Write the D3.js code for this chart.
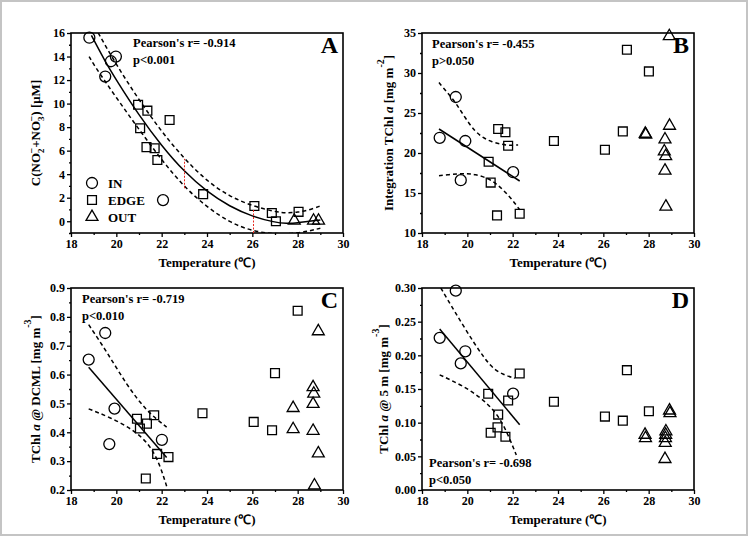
<!DOCTYPE html>
<html>
<head>
<meta charset="utf-8">
<script src="https://cdn.jsdelivr.net/npm/d3@7"></script>
<style>
  body { margin: 0; background: #fff; }
  svg { display: block; font-family: "Liberation Serif", "Times New Roman", serif; font-weight: bold; }
  .tick text { font-size: 12px; font-family: "Liberation Serif", serif; font-weight: bold; }
</style>
</head>
<body>
<div id="chart"></div>
<script>
// temperature ticks shared by all panels
const xMajor = [18, 20, 22, 24, 26, 28, 30];
const xMinor = [19, 21, 23, 25, 27, 29];

// Panel A: C(NO2- + NO3-)
const aIn = [[18.81, 15.6], [19.51, 12.3], [19.76, 13.6], [19.98, 14.0], [22.06, 1.8]];
const aEdge = [[20.96, 9.9], [21.37, 9.4], [21.05, 7.9], [21.33, 6.3], [21.69, 6.2], [21.81, 5.2],
  [22.35, 8.6], [23.83, 2.3], [26.09, 1.3], [26.86, 0.7], [27.04, 0.0], [28.04, 0.8]];
const aOut = [[27.85, 0.05], [28.7, 0.05], [28.92, 0.05]];
const aFit = [[18.9, 15.8], [19.5, 13.6], [20, 12.0], [21, 9.0], [22, 6.4], [23, 4.2], [24, 2.5],
  [25, 1.25], [26, 0.4], [27, -0.1], [27.5, -0.2], [28, -0.15], [28.5, 0.0], [29, 0.1]];
const aUpper = [[19.2, 16.0], [20, 13.3], [21, 10.3], [22, 7.6], [23, 5.3], [24, 3.4], [25, 2.1],
  [26, 1.3], [27, 0.8], [27.5, 0.7], [28, 0.75], [28.5, 0.95], [29, 1.3]];
const aLower = [[18.8, 14.0], [19, 13.3], [20, 10.5], [21, 7.8], [22, 5.2], [23, 2.9], [24, 1.2],
  [25, -0.1], [26, -0.85], [27, -1.1], [28, -1.05], [29, -0.6]];
const aMarks = [[[23, 2.8], [23, 5.3]], [[26.03, -1], [26.03, 0.95]]];
const aYMajor = [0, 2, 4, 6, 8, 10, 12, 14, 16];
const aYMinor = [-1, 1, 3, 5, 7, 9, 11, 13, 15];

// Panel B: integrated TChl a
const bIn = [[18.78, 21.9], [19.49, 27.0], [19.71, 16.6], [19.91, 21.5], [22.02, 17.6]];
const bEdge = [[21.36, 23.0], [21.68, 22.6], [21.8, 20.9], [20.94, 18.9], [21.03, 16.3], [21.31, 12.2],
  [22.31, 12.4], [23.82, 21.5], [26.07, 20.4], [26.86, 22.7], [27.04, 32.9], [28.01, 30.2]];
const bOut = [[28.91, 34.6], [27.85, 22.4], [27.87, 22.3], [28.92, 23.4], [28.72, 21.7], [28.69, 20.2],
  [28.75, 19.6], [28.72, 17.8], [28.76, 13.3]];
const bFit = [[18.75, 23.0], [22.31, 16.5]];
const bUpper = [[18.75, 28.8], [19.1, 27.6], [19.49, 26.3], [19.9, 24.4], [20.33, 22.7], [20.7, 21.9],
  [21.06, 21.4], [21.5, 21.1], [21.8, 20.95], [22.24, 21.0]];
const bLower = [[18.75, 17.15], [19.2, 17.3], [19.59, 17.4], [20, 17.4], [20.33, 17.35], [20.92, 16.85],
  [21.3, 16.1], [21.65, 15.2], [22.0, 14.1], [22.31, 12.9]];
const bYMajor = [10, 15, 20, 25, 30, 35];
const bYMinor = [12.5, 17.5, 22.5, 27.5, 32.5];

// Panel C: TChl a at DCML
const cIn = [[18.78, 0.652], [19.51, 0.744], [19.69, 0.359], [19.92, 0.482], [22.01, 0.374]];
const cEdge = [[20.91, 0.447], [21.04, 0.413], [21.35, 0.430], [21.67, 0.459], [21.8, 0.325], [22.3, 0.314],
  [21.3, 0.240], [23.8, 0.466], [26.06, 0.436], [26.87, 0.407], [27.0, 0.605], [28.0, 0.821]];
const cOut = [[28.91, 0.750], [27.8, 0.484], [27.8, 0.411], [28.68, 0.556], [28.71, 0.534], [28.68, 0.498],
  [28.68, 0.405], [28.91, 0.327], [28.74, 0.216]];
const cFit = [[18.78, 0.625], [22.22, 0.313]];
const cUpper = [[18.78, 0.773], [19.57, 0.68], [20.45, 0.565], [21.33, 0.473], [22.22, 0.418]];
const cLower = [[18.78, 0.481], [19.72, 0.452], [20.75, 0.409], [21.48, 0.357], [21.92, 0.288], [22.22, 0.213]];
const cYMajor = [0.2, 0.3, 0.4, 0.5, 0.6, 0.7, 0.8, 0.9];
const cYMinor = [0.25, 0.35, 0.45, 0.55, 0.65, 0.75, 0.85];

// Panel D: TChl a at 5 m
const dIn = [[18.78, 0.226], [19.49, 0.296], [19.71, 0.188], [19.91, 0.206], [22.02, 0.143]];
const dEdge = [[20.92, 0.143], [21.03, 0.085], [21.33, 0.093], [21.36, 0.112], [21.68, 0.079], [21.8, 0.133],
  [22.31, 0.173], [23.82, 0.131], [26.07, 0.109], [26.86, 0.103], [27.04, 0.178], [28.01, 0.117]];
const dOut = [[27.84, 0.082], [27.86, 0.077], [28.92, 0.118], [28.94, 0.114], [28.76, 0.087], [28.75, 0.082],
  [28.74, 0.077], [28.73, 0.070], [28.72, 0.046]];
const dFit = [[18.78, 0.239], [22.31, 0.097]];
const dUpper = [[18.83, 0.300], [19.44, 0.265], [20.33, 0.216], [21.06, 0.181], [21.6, 0.171], [22.09, 0.166]];
const dLower = [[18.78, 0.171], [19.74, 0.156], [20.62, 0.137], [21.36, 0.112], [21.8, 0.082], [22.16, 0.052]];
const dYMajor = [0, 0.05, 0.10, 0.15, 0.20, 0.25, 0.30];
const dYMinor = [0.025, 0.075, 0.125, 0.175, 0.225, 0.275];

const legendLabels = ["IN", "EDGE", "OUT"];

const W = 749, H = 537;
const svg = d3.select("#chart").append("svg").attr("width", W).attr("height", H);

svg.append("rect").attr("x", 1).attr("y", 1).attr("width", W - 3).attr("height", H - 3)
  .attr("fill", "#fff").attr("stroke", "#c4c4c4").attr("stroke-width", 2);

const panels = [
  { id: "A", box: [71, 33, 343, 233], yDom: [-1, 16], yMajor: aYMajor, yMinor: aYMinor, fmt: d3.format("d"),
    groups: [aIn, aEdge, aOut], fit: aFit, upper: aUpper, lower: aLower, curve: d3.curveBasis,
    stats: ["Pearson's r= -0.914", "p<0.001"], statPos: [133, 47], ylabX: 40 },
  { id: "B", box: [422, 33, 694, 233], yDom: [10, 35], yMajor: bYMajor, yMinor: bYMinor, fmt: d3.format("d"),
    groups: [bIn, bEdge, bOut], fit: bFit, upper: bUpper, lower: bLower, curve: d3.curveBasis,
    stats: ["Pearson's r= -0.455", "p>0.050"], statPos: [432, 48], ylabX: 393 },
  { id: "C", box: [71, 288, 343, 490], yDom: [0.2, 0.9], yMajor: cYMajor, yMinor: cYMinor, fmt: d3.format(".1f"),
    groups: [cIn, cEdge, cOut], fit: cFit, upper: cUpper, lower: cLower, curve: d3.curveBasis,
    stats: ["Pearson's r= -0.719", "p<0.010"], statPos: [82, 303], ylabX: 40 },
  { id: "D", box: [422, 288, 694, 490], yDom: [0, 0.30], yMajor: dYMajor, yMinor: dYMinor, fmt: d3.format(".2f"),
    groups: [dIn, dEdge, dOut], fit: dFit, upper: dUpper, lower: dLower, curve: d3.curveBasis,
    stats: ["Pearson's r= -0.698", "p<0.050"], statPos: [429, 467], ylabX: 388 }
];

const symbols = [
  d3.symbol().type(d3.symbolCircle).size(95),
  d3.symbol().type(d3.symbolSquare).size(78),
  d3.symbol().type(d3.symbolTriangle).size(62)
];

// y-axis titles with sub/superscripts
function yTitle(t, id) {
  const sub = (s) => t.append("tspan").attr("font-size", 9).attr("dy", 4).text(s);
  const sup = (s, back) => t.append("tspan").attr("font-size", 10).attr("dx", back).attr("dy", -9).text(s);
  const norm = (s, dy) => t.append("tspan").attr("dy", dy).text(s);
  if (id === "A") {
    norm("C(NO", 0); sub("2"); sup("−", -5); norm("+NO", 5); sub("3"); sup("−", -5); norm(") [μM]", 5);
  } else {
    norm(id === "B" ? "Integration TChl " : "TChl ", 0);
    t.append("tspan").attr("font-style", "italic").text("a");
    if (id === "B") {
      norm(" [mg m", 0); sup("-2", 0); norm("]", 9);
    } else if (id === "C") {
      norm(" @ DCML [mg m", 0); sup("-3", 0); norm("]", 9);
    } else {
      norm(" @ 5 m [mg m", 0); sup("-3", 0); norm("]", 9);
    }
  }
}

panels.forEach(p => {
  const [x0, y0, x1, y1] = p.box;
  const x = d3.scaleLinear().domain([18, 30]).range([x0, x1]);
  const y = d3.scaleLinear().domain(p.yDom).range([y1, y0]);
  const g = svg.append("g");

  const clipId = "clip" + p.id;
  g.append("clipPath").attr("id", clipId).append("rect")
    .attr("x", x0).attr("y", y0).attr("width", x1 - x0).attr("height", y1 - y0);

  // axes
  g.append("g").attr("transform", `translate(0,${y1})`)
    .call(d3.axisBottom(x).tickValues(xMajor).tickSize(4).tickPadding(2).tickFormat(d3.format("d")));
  g.append("g").attr("transform", `translate(0,${y1})`)
    .call(d3.axisBottom(x).tickValues(xMinor).tickSize(2).tickFormat(""));
  g.append("g").attr("transform", `translate(${x0},0)`)
    .call(d3.axisLeft(y).tickValues(p.yMajor).tickSize(4).tickPadding(2).tickFormat(p.fmt));
  g.append("g").attr("transform", `translate(${x0},0)`)
    .call(d3.axisLeft(y).tickValues(p.yMinor).tickSize(2).tickFormat(""));
  g.selectAll(".domain").remove();
  g.selectAll(".tick line").attr("stroke-width", 1.3);

  g.append("rect").attr("x", x0).attr("y", y0).attr("width", x1 - x0).attr("height", y1 - y0)
    .attr("fill", "none").attr("stroke", "#000").attr("stroke-width", 1.6);

  // axis titles
  g.append("text").attr("x", (x0 + x1) / 2).attr("y", y1 + 34).attr("text-anchor", "middle")
    .attr("font-size", 13).text("Temperature (℃)");
  const yt = g.append("text").attr("transform", `translate(${p.ylabX},${(y0 + y1) / 2}) rotate(-90)`)
    .attr("text-anchor", "middle").attr("font-size", 13);
  yTitle(yt, p.id);

  // fit line + confidence band
  const line = d3.line().x(d => x(d[0])).y(d => y(d[1])).curve(p.curve);
  const lines = g.append("g").attr("clip-path", `url(#${clipId})`);
  [p.upper, p.lower].forEach(band => {
    lines.append("path").attr("d", line(band)).attr("fill", "none").attr("stroke", "#000")
      .attr("stroke-width", 1.5).attr("stroke-dasharray", "4,3");
  });
  lines.append("path").attr("d", line(p.fit)).attr("fill", "none").attr("stroke", "#000").attr("stroke-width", 1.5);

  // points
  p.groups.forEach((grp, gi) => {
    g.append("g").selectAll("path").data(grp).join("path")
      .attr("transform", d => `translate(${x(d[0])},${y(d[1])})`)
      .attr("d", symbols[gi]).attr("fill", "none").attr("stroke", "#000").attr("stroke-width", 1.3);
  });

  if (p.id === "A") {
    aMarks.forEach(m => {
      g.append("line")
        .attr("x1", Math.round(x(m[0][0])) + 0.5).attr("x2", Math.round(x(m[1][0])) + 0.5)
        .attr("y1", y(m[0][1])).attr("y2", y(m[1][1]))
        .attr("stroke", "#e8281e").attr("stroke-width", 1).attr("stroke-dasharray", "2,1.5");
    });
  }

  // stats text
  g.append("text").attr("x", p.statPos[0]).attr("y", p.statPos[1]).attr("font-size", 12.5).text(p.stats[0]);
  g.append("text").attr("x", p.statPos[0]).attr("y", p.statPos[1] + 17).attr("font-size", 12.5).text(p.stats[1]);

  // panel letter
  g.append("text").attr("x", x1 - 5).attr("y", y0 + 20).attr("text-anchor", "end")
    .attr("font-size", 24).text(p.id);

  if (p.id === "A") {
    const lg = g.append("g");
    legendLabels.forEach((lab, i) => {
      lg.append("path").attr("transform", `translate(92,${183 + i * 17})`).attr("d", symbols[i])
        .attr("fill", "none").attr("stroke", "#000").attr("stroke-width", 1.3);
      lg.append("text").attr("x", 108).attr("y", 188 + i * 17).attr("font-size", 13).text(lab);
    });
  }
});
</script>
</body>
</html>
